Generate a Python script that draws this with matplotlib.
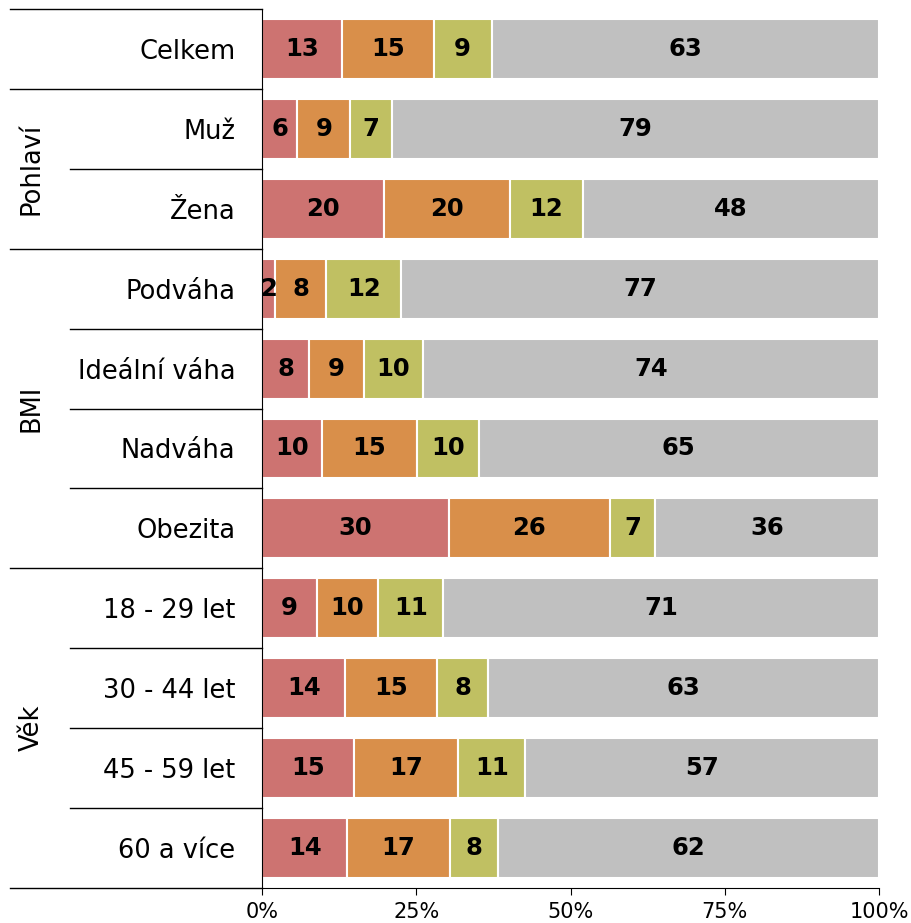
import numpy as np
import matplotlib.pyplot as plt
from matplotlib import transforms

# Data (shares in %, rounded values shown on the bars)
categories = ["Celkem", "Muž", "Žena", "Podváha", "Ideální váha", "Nadváha", "Obezita",
              "18 - 29 let", "30 - 44 let", "45 - 59 let", "60 a více"]
seg1 = [13.0, 5.7, 19.8, 2.1, 7.6, 9.7, 30.3, 8.9, 13.5, 14.9, 13.8]
seg2 = [14.8, 8.6, 20.4, 8.3, 8.9, 15.4, 26.1, 9.9, 14.9, 16.9, 16.6]
seg3 = [9.4, 6.8, 11.8, 12.2, 9.6, 10.0, 7.3, 10.6, 8.3, 10.9, 7.9]
seg4 = [62.8, 78.9, 48.0, 77.4, 73.9, 64.9, 36.3, 70.6, 63.3, 57.3, 61.7]
groups = [("Pohlaví", 1, 2), ("BMI", 3, 6), ("Věk", 7, 10)]
full_lines = [0, 1, 3, 7, 11]   # separators spanning group label column
xticks = [0, 25, 50, 75, 100]

colors = ["#cd7371", "#d98f4a", "#c0c062", "#c0c0c0"]

fig = plt.figure(figsize=(9.11, 9.23), dpi=100)
ax = fig.add_axes([262 / 911, 35 / 923, 617 / 911, 879 / 923])

n = len(categories)
y = np.arange(n)
left = np.zeros(n)
for vals, c in zip([seg1, seg2, seg3, seg4], colors):
    vals = np.array(vals)
    ax.barh(y, vals, left=left, height=0.75, color=c, edgecolor="white", linewidth=1.5)
    for yi, l, v in zip(y, left, vals):
        ax.text(l + v / 2, yi, str(int(round(v))), ha="center", va="center",
                fontsize=17.5, fontweight="bold", color="black")
    left += vals

ax.set_xlim(0, 100)
ax.set_ylim(n - 0.5, -0.5)
ax.set_xticks(xticks)
ax.set_xticklabels([f"{t}%" for t in xticks], fontsize=15)
ax.tick_params(axis="x", length=5, pad=5)
ax.set_yticks(y)
ax.set_yticklabels(categories, fontsize=18.5)
ax.tick_params(axis="y", which="major", length=0, pad=19)
ax.set_yticks(np.arange(n + 1) - 0.5, minor=True)
ax.tick_params(axis="y", which="minor", length=5)
for s in ["top", "right"]:
    ax.spines[s].set_visible(False)

# separator lines in the label column
trans = transforms.blended_transform_factory(ax.transAxes, ax.transData)
for b in range(n + 1):
    x0 = -0.408 if b in full_lines else -0.311
    ax.plot([x0, 0], [b - 0.5, b - 0.5], color="black", lw=1, transform=trans, clip_on=False)

for name, a, b in groups:
    ax.text(-0.373, (a + b) / 2, name, rotation=90, ha="center", va="center",
            fontsize=18.5, transform=trans)

fig.savefig("out.png", dpi=100)
